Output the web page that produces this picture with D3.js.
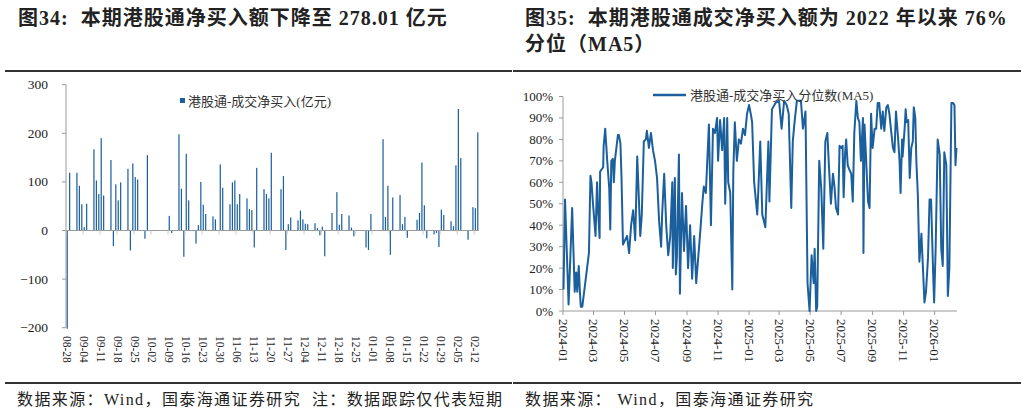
<!DOCTYPE html>
<html>
<head>
<meta charset="utf-8">
<title>港股通净买入</title>
<script src="https://d3js.org/d3.v7.min.js"></script>
<style>
    body { margin: 0; background: #fff; }
    svg text { font-family: "Liberation Serif", "Noto Sans CJK SC", serif; fill: #222; white-space: pre; }
</style>
</head>
<body>
<svg id="chart" width="1026" height="414"></svg>
<script>
    // ---- data: daily southbound net buying (亿元) ----
    const flowDates = [
        "2025-08-28","2025-08-29","2025-09-01","2025-09-02","2025-09-03","2025-09-04","2025-09-05",
        "2025-09-08","2025-09-09","2025-09-10","2025-09-11","2025-09-12","2025-09-15","2025-09-16",
        "2025-09-17","2025-09-18","2025-09-19","2025-09-22","2025-09-23","2025-09-24","2025-09-25",
        "2025-09-26","2025-09-29","2025-09-30","2025-10-09","2025-10-10","2025-10-13","2025-10-14",
        "2025-10-15","2025-10-16","2025-10-17","2025-10-20","2025-10-21","2025-10-22","2025-10-23",
        "2025-10-24","2025-10-27","2025-10-28","2025-10-30","2025-10-31","2025-11-03","2025-11-04",
        "2025-11-05","2025-11-06","2025-11-07","2025-11-10","2025-11-11","2025-11-12","2025-11-13",
        "2025-11-14","2025-11-17","2025-11-18","2025-11-19","2025-11-20","2025-11-24","2025-11-25",
        "2025-11-26","2025-11-27","2025-11-28","2025-12-01","2025-12-02","2025-12-03","2025-12-04",
        "2025-12-05","2025-12-08","2025-12-09","2025-12-10","2025-12-11","2025-12-12","2025-12-15",
        "2025-12-17","2025-12-18","2025-12-19","2025-12-22","2025-12-23","2025-12-24","2025-12-29",
        "2025-12-30","2025-12-31","2026-01-05","2026-01-06","2026-01-07","2026-01-08","2026-01-09",
        "2026-01-12","2026-01-13","2026-01-14","2026-01-15","2026-01-19","2026-01-20","2026-01-21",
        "2026-01-22","2026-01-23","2026-01-26","2026-01-27","2026-01-28","2026-01-29","2026-01-30",
        "2026-02-02","2026-02-03","2026-02-04","2026-02-05","2026-02-06","2026-02-09","2026-02-11",
        "2026-02-12","2026-02-13"
    ];
    const flowValues = [
        -202, 119, 119, 92, 54, 7, 55,
        167, 103, 75, 190, 72, 145, -32,
        95, 62, 99, 127, -41, 138, 110,
        105, -17, 155, 30, -5, 198, 86,
        -54, 158, 62, -27, 11, 100, 53,
        34, 29, 23, 136, 88, 54, 99,
        103, 54, 75, 66, 44, 42, -35,
        129, 85, 75, 66, 160, 85, 112,
        -40, 13, 27, 21, 41, 23, 14,
        13, 15, 5, -10, 8, -53, 36,
        79, 12, 34, 31, 6, -12, -35,
        -40, 34, 188, 28, 92, -50, 68,
        73, 13, 28, -15, 22, 36, 140,
        52, -16, -8, -5, -34, 43, 32,
        19, 9, 134, 250, 149, -19, 48,
        46, 202
    ];
    const flowTicks = [
        "2025-08-28","2025-09-04","2025-09-11","2025-09-18","2025-09-25","2025-10-02","2025-10-09",
        "2025-10-16","2025-10-23","2025-10-30","2025-11-06","2025-11-13","2025-11-20","2025-11-27",
        "2025-12-04","2025-12-11","2025-12-18","2025-12-25","2026-01-01","2026-01-08","2026-01-15",
        "2026-01-22","2026-01-29","2026-02-05","2026-02-12"
    ];
    const flowYTicks = [-200, -100, 0, 100, 200, 300];

    // ---- data: net buying percentile since 2022 (MA5) ----
    const pctDates = [
        "2024-01-02","2024-01-05","2024-01-12","2024-01-19","2024-01-24","2024-01-27","2024-01-29","2024-02-01",
        "2024-02-03","2024-02-05","2024-02-08","2024-02-21","2024-02-24","2024-02-26","2024-02-29","2024-03-05",
        "2024-03-08","2024-03-10","2024-03-13","2024-03-14","2024-03-20","2024-03-21","2024-03-24","2024-03-28",
        "2024-04-01","2024-04-03","2024-04-05","2024-04-08","2024-04-10","2024-04-12","2024-04-18","2024-04-20",
        "2024-04-23","2024-04-25","2024-04-28",
        "2024-05-06","2024-05-10","2024-05-14","2024-05-18",
        "2024-05-22","2024-05-26","2024-05-28","2024-06-01","2024-06-04","2024-06-08","2024-06-12","2024-06-14",
        "2024-06-18","2024-06-22","2024-06-26","2024-06-30","2024-07-04","2024-07-08","2024-07-12","2024-07-14",
        "2024-07-18","2024-07-22","2024-07-26","2024-07-30","2024-08-03","2024-08-04","2024-08-08","2024-08-10",
        "2024-08-12","2024-08-16","2024-08-18","2024-08-22","2024-08-26","2024-08-30","2024-09-03","2024-09-07",
        "2024-09-11","2024-09-15","2024-09-19","2024-09-23","2024-09-27","2024-10-01","2024-10-04","2024-10-08",
        "2024-10-14","2024-10-18","2024-10-22","2024-10-26","2024-10-30","2024-11-01","2024-11-05","2024-11-09",
        "2024-11-13","2024-11-15","2024-11-19","2024-11-21","2024-11-25","2024-11-29","2024-12-01","2024-12-04",
        "2024-12-08","2024-12-12","2024-12-16","2024-12-20","2024-12-24","2024-12-28","2025-01-01","2025-01-05",
        "2025-01-07","2025-01-11","2025-01-15","2025-01-17","2025-01-19","2025-01-23","2025-01-27","2025-02-02",
        "2025-02-08","2025-02-10","2025-02-15","2025-02-22","2025-03-01","2025-03-06","2025-03-11","2025-03-16",
        "2025-03-20","2025-03-25","2025-03-28","2025-03-31","2025-04-05","2025-04-13","2025-04-17","2025-04-22",
        "2025-04-26","2025-04-30","2025-05-04","2025-05-08","2025-05-10","2025-05-13","2025-05-15","2025-05-19",
        "2025-05-23","2025-05-27","2025-05-31","2025-06-04","2025-06-07","2025-06-11","2025-06-15","2025-06-18",
        "2025-06-21","2025-06-25","2025-06-28","2025-07-01","2025-07-04","2025-07-06","2025-07-09","2025-07-11",
        "2025-07-14","2025-07-17","2025-07-21","2025-07-24","2025-07-27","2025-07-31","2025-08-03","2025-08-06",
        "2025-08-09","2025-08-13","2025-08-14","2025-08-16","2025-08-19","2025-08-23","2025-08-26","2025-08-29",
        "2025-09-01","2025-09-05","2025-09-08","2025-09-11","2025-09-14","2025-09-18","2025-09-21","2025-09-24",
        "2025-09-28","2025-10-01","2025-10-04","2025-10-07","2025-10-11","2025-10-14","2025-10-17","2025-10-21",
        "2025-10-24","2025-10-26","2025-10-29","2025-10-30","2025-11-03","2025-11-05","2025-11-07","2025-11-10",
        "2025-11-13","2025-11-16","2025-11-19","2025-11-21","2025-11-24","2025-11-26","2025-11-29","2025-12-02",
        "2025-12-06","2025-12-12","2025-12-15","2025-12-19","2025-12-22","2025-12-25","2025-12-29","2025-12-31",
        "2026-01-03","2026-01-07","2026-01-11","2026-01-14","2026-01-17","2026-01-20","2026-01-24","2026-01-27",
        "2026-01-30","2026-02-03","2026-02-06","2026-02-09","2026-02-11","2026-02-13"
    ];
    const pctValues = [
        10, 52, 3, 48, 9, 18, 9, 21,
        10, 2, 2, 27, 63, 60, 50, 35,
        60, 47, 34, 65, 67, 77, 85, 70,
        57, 38, 70, 71, 60, 70, 82, 82,
        78, 63, 31,
        35, 27, 40, 47,
        33, 72, 60, 35, 45, 79, 80, 84,
        76, 83, 75, 70, 62, 42, 30, 45,
        64, 40, 26, 35, 60, 20, 62, 17,
        25, 73, 8, 55, 28, 49, 20, 40,
        15, 35, 13, 25, 37, 50, 58, 55,
        87, 40, 85, 83, 90, 70, 89, 75,
        90, 50, 90, 60, 55, 10, 65, 88,
        70, 80, 78, 85, 82, 92, 96, 91,
        88, 60, 50, 45, 55, 79, 45, 39,
        79, 51, 94, 97, 98, 85, 98, 96,
        92, 48, 79, 87, 98, 98, 85, 93,
        13, 0, 26, 13, 29, 0, 2, 70,
        57, 29, 79, 83, 68, 50, 64, 58,
        48, 45, 77, 76, 77, 53, 74, 80,
        68, 66, 64, 51, 83, 98, 90, 88,
        70, 90, 27, 87, 72, 51, 48, 92,
        76, 85, 85, 97, 97, 85, 93, 84,
        95, 96, 92, 85, 76, 74, 93, 81,
        70, 55, 80, 72, 85, 94, 88, 89,
        62, 76, 79, 95, 90, 70, 54, 23,
        36, 4, 9, 25, 52, 52, 18, 4,
        29, 80, 73, 29, 21, 74, 68, 7,
        20, 97, 97, 96, 68, 76
    ];
    const pctYTicks = [0, 10, 20, 30, 40, 50, 60, 70, 80, 90, 100];

    const blue = "#1c5f9d";
    const axisGray = "#9a9a9a";
    const parse = d3.timeParse("%Y-%m-%d");
    const fmtKey = d3.timeFormat("%Y-%m-%d");

    const svg = d3.select("#chart");
    svg.append("rect").attr("width", 1026).attr("height", 414).attr("fill", "#fff");

    // ---- titles, rules, sources ----
    function title(x, y, s) {
        svg.append("text").attr("x", x).attr("y", y)
            .style("font-size", "20px").style("font-weight", "bold").style("letter-spacing", "1px")
            .text(s);
    }
    title(18, 25, "图34:  本期港股通净买入额下降至 278.01 亿元");
    title(525, 25, "图35:  本期港股通成交净买入额为 2022 年以来 76%");
    title(525, 51, "分位（MA5）");

    [[5, 512], [513, 1021]].forEach(function(r) {
        svg.append("line").attr("x1", r[0]).attr("x2", r[1]).attr("y1", 71).attr("y2", 71)
            .attr("stroke", "#333").attr("stroke-width", 2);
        svg.append("line").attr("x1", r[0]).attr("x2", r[1]).attr("y1", 383).attr("y2", 383)
            .attr("stroke", "#333").attr("stroke-width", 2);
    });
    svg.append("text").attr("x", 17).attr("y", 405).style("font-size", "16px").style("letter-spacing", "1.4px")
        .text("数据来源：Wind，国泰海通证券研究  注：数据跟踪仅代表短期");
    svg.append("text").attr("x", 525).attr("y", 405).style("font-size", "16px").style("letter-spacing", "1.4px")
        .text("数据来源： Wind，国泰海通证券研究");

    // ---- left: bar chart ----
    const allDays = d3.timeDay.range(parse("2025-08-28"), parse("2026-02-14")).map(fmtKey);
    const x1 = d3.scaleBand().domain(allDays).range([66, 479]);
    const y1 = d3.scaleLinear().domain([-200, 300]).range([327.7, 84.7]);
    const g1 = svg.append("g");

    g1.selectAll("rect.bar")
        .data(flowDates.map((d, i) => ({ date: d, v: flowValues[i] })))
        .enter()
        .append("rect")
        .attr("class", "bar")
        .attr("x", d => x1(d.date) + x1.bandwidth() * 0.25)
        .attr("width", x1.bandwidth() * 0.5)
        .attr("y", d => y1(Math.max(0, d.v)))
        .attr("height", d => Math.abs(y1(d.v) - y1(0)))
        .attr("fill", blue);

    // y axis
    g1.append("line").attr("x1", 66).attr("x2", 66).attr("y1", y1(300)).attr("y2", y1(-200))
        .attr("stroke", axisGray);
    flowYTicks.forEach(function(t) {
        g1.append("line").attr("x1", 62).attr("x2", 66).attr("y1", y1(t)).attr("y2", y1(t))
            .attr("stroke", axisGray);
        g1.append("text").attr("x", 48).attr("y", y1(t) + 4.5).attr("text-anchor", "end")
            .style("font-size", "13.5px").text(t < 0 ? "\u2212" + Math.abs(t) : t);
    });
    // zero line + weekly ticks
    g1.append("line").attr("x1", 66).attr("x2", 479).attr("y1", y1(0)).attr("y2", y1(0))
        .attr("stroke", axisGray);
    flowTicks.forEach(function(t) {
        const xc = x1(t) + x1.bandwidth() / 2;
        g1.append("line").attr("x1", x1(t)).attr("x2", x1(t)).attr("y1", y1(0)).attr("y2", y1(0) + 4)
            .attr("stroke", "#c8c8c8");
        g1.append("text")
            .attr("transform", "translate(" + (xc - 4) + ",336) rotate(90)")
            .style("font-size", "11.5px")
            .text(d3.timeFormat("%m-%d")(parse(t)));
    });

    // legend
    g1.append("rect").attr("x", 180).attr("y", 98).attr("width", 5).attr("height", 5).attr("fill", blue);
    g1.append("text").attr("x", 188).attr("y", 105.5).style("font-size", "13px").style("fill", "#333")
        .text("港股通-成交净买入(亿元)");

    // ---- right: percentile line ----
    const x2 = d3.scaleTime().domain([parse("2024-01-01"), parse("2026-02-14")]).range([563, 957]);
    const y2 = d3.scaleLinear().domain([0, 100]).range([311, 96.5]);
    const g2 = svg.append("g");

    g2.append("line").attr("x1", 563).attr("x2", 563).attr("y1", y2(100)).attr("y2", y2(0))
        .attr("stroke", axisGray);
    pctYTicks.forEach(function(t) {
        g2.append("line").attr("x1", 559).attr("x2", 563).attr("y1", y2(t)).attr("y2", y2(t))
            .attr("stroke", axisGray);
        g2.append("text").attr("x", 553).attr("y", y2(t) + 4.5).attr("text-anchor", "end")
            .style("font-size", "13px").text(t + "%");
    });
    g2.append("line").attr("x1", 563).attr("x2", 957).attr("y1", y2(0)).attr("y2", y2(0))
        .attr("stroke", axisGray);
    x2.ticks(d3.timeMonth.every(2)).forEach(function(t) {
        g2.append("line").attr("x1", x2(t)).attr("x2", x2(t)).attr("y1", y2(0)).attr("y2", y2(0) + 4)
            .attr("stroke", axisGray);
        g2.append("text")
            .attr("transform", "translate(" + (x2(t) - 4.5) + ",319) rotate(90)")
            .style("font-size", "13px")
            .text(d3.timeFormat("%Y-%m")(t));
    });

    const pctData = pctDates.map((d, i) => ({ date: parse(d), v: pctValues[i] }));
    g2.append("path")
        .datum(pctData)
        .attr("fill", "none")
        .attr("stroke", blue)
        .attr("stroke-width", 2)
        .attr("stroke-linejoin", "round")
        .attr("d", d3.line().x(d => x2(d.date)).y(d => y2(d.v)));

    // legend
    g2.append("line").attr("x1", 653).attr("x2", 686).attr("y1", 95).attr("y2", 95)
        .attr("stroke", blue).attr("stroke-width", 2.5);
    g2.append("text").attr("x", 690).attr("y", 99.5).style("font-size", "13px").style("fill", "#333")
        .text("港股通-成交净买入分位数(MA5)");
</script>
</body>
</html>
